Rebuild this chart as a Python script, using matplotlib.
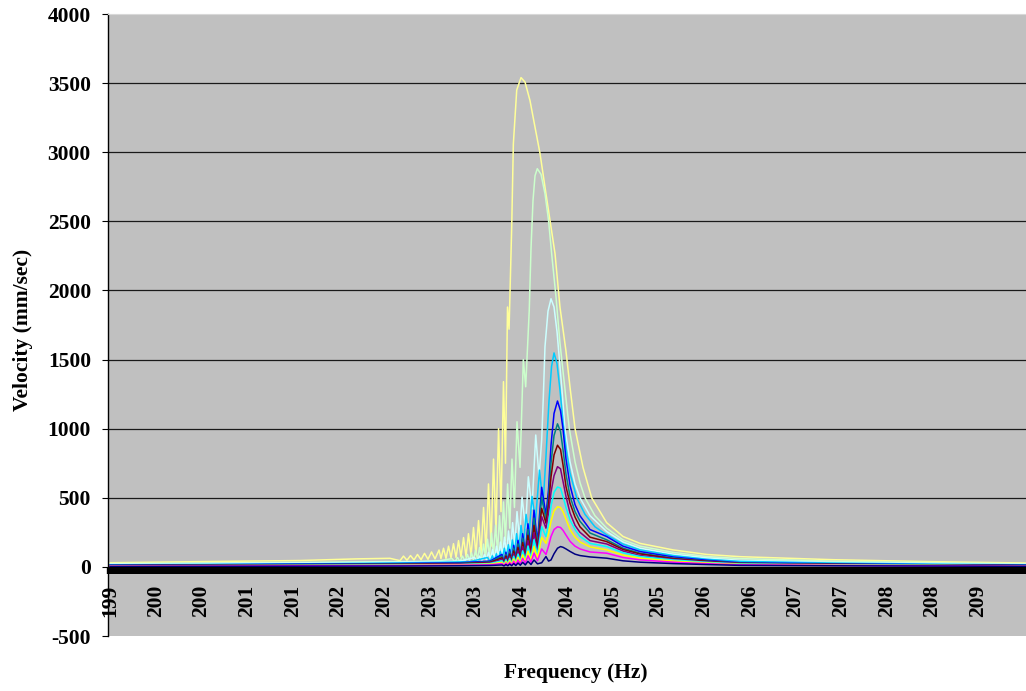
import matplotlib.pyplot as plt
import numpy as np
from matplotlib.ticker import FixedLocator

plt.rcParams['font.family'] = ['Liberation Serif', 'DejaVu Serif']
plt.rcParams['font.weight'] = 'bold'
plt.rcParams['font.size'] = 15.5
plt.rcParams['axes.unicode_minus'] = False

# ---- data: frequency (Hz) / velocity (mm/sec) ----

# largest run (pale yellow)
freq_pale_yellow = [199.000, 199.985, 201.079, 201.699, 202.063,
                    202.173, 202.211, 202.249, 202.288, 202.326, 202.364, 202.403, 202.441, 202.479, 202.518,
                    202.556, 202.600, 202.621, 202.649, 202.676, 202.704, 202.731, 202.758, 202.786, 202.813,
                    202.840, 202.868, 202.895, 202.922, 202.950, 202.977, 203.004, 203.032, 203.059, 203.087,
                    203.114, 203.141, 203.169, 203.196, 203.223, 203.251, 203.278, 203.305, 203.327, 203.349,
                    203.366,
                    203.395, 203.413, 203.450, 203.497, 203.541, 203.595, 203.650, 203.705, 203.759, 203.814,
                    203.869, 203.923, 203.989, 204.033, 204.088, 204.175, 204.270, 204.434, 204.613, 204.799,
                    205.160, 205.529, 205.893, 206.910, 207.972, 209.022]
vel_pale_yellow = [30, 38, 46, 58, 62,
                   45, 78, 48, 82, 50, 90, 52, 98, 55, 108,
                   58, 122, 60, 135, 62, 150, 65, 168, 68, 190,
                   72, 212, 76, 240, 80, 285, 88, 335, 95, 430,
                   110, 600, 150, 780, 250, 1000, 400, 1340, 750, 1880,
                   1720,
                   2460, 3060, 3450, 3540, 3507, 3374, 3181, 2990, 2748, 2507,
                   2266, 1880, 1560, 1300, 1000, 720, 500, 320, 220, 170,
                   123, 90, 74, 52, 38, 28]

# second run (pale green)
freq_pale_green = [199.000, 199.985, 201.079, 202.063, 202.392, 202.611,
                   202.742, 202.775, 202.802, 202.829, 202.857, 202.884, 202.911, 202.933, 202.955, 202.977,
                   202.999, 203.021, 203.043, 203.065, 203.087, 203.108, 203.130, 203.152, 203.174, 203.196,
                   203.218, 203.240, 203.262, 203.283, 203.305, 203.327, 203.350, 203.374, 203.398, 203.425,
                   203.453, 203.486, 203.522, 203.548, 203.587, 203.606, 203.628, 203.650, 203.675, 203.716,
                   203.759, 203.798, 203.836, 203.880, 203.923, 203.967, 204.025, 204.088, 204.142, 204.197,
                   204.306, 204.434, 204.613, 204.799, 205.160, 205.529, 205.893, 206.910, 207.972, 209.022]
vel_pale_green = [24, 28, 33, 38, 40, 45,
                  60, 36, 68, 38, 78, 42, 90, 46, 102, 50,
                  120, 55, 140, 60, 165, 68, 200, 78, 245, 90,
                  300, 110, 370, 140, 470, 190, 600, 280, 780, 430,
                  1050, 720, 1500, 1303, 1857, 2300, 2650, 2830, 2881, 2840,
                  2700, 2507, 2240, 1950, 1620, 1351, 1000, 760, 610, 500,
                  370, 280, 195, 150, 105, 75, 60, 42, 31, 22]

# third run (pale turquoise)
freq_pale_cyan = [199.000, 199.985, 201.079, 202.063, 202.501, 202.829,
                  202.988, 203.015, 203.043, 203.070, 203.097, 203.119, 203.141, 203.163, 203.185, 203.207,
                  203.229, 203.251, 203.272, 203.294, 203.316, 203.338, 203.360, 203.382, 203.405, 203.429,
                  203.453, 203.480, 203.508, 203.546, 203.577, 203.617, 203.658, 203.694, 203.723, 203.741,
                  203.759, 203.792, 203.825, 203.858, 203.891, 203.923, 203.945, 203.978, 204.033, 204.088,
                  204.142, 204.252, 204.434, 204.613, 204.799, 205.160, 205.529, 205.893, 206.910, 207.972,
                  209.022]
vel_pale_cyan = [20, 24, 28, 33, 38, 42,
                 68, 42, 78, 45, 90, 50, 105, 55, 125, 62,
                 150, 70, 180, 80, 215, 95, 260, 115, 320, 150,
                 400, 200, 505, 280, 652, 420, 954, 650, 918, 1230,
                 1592, 1850, 1940, 1880, 1700, 1450, 1280, 1000, 760, 600,
                 500, 370, 256, 180, 135, 92, 65, 47, 33, 25,
                 18]

# fourth run (sky blue)
freq_sky_blue = [199.000, 199.985, 201.079, 202.063, 202.611, 202.939,
                 203.130, 203.158, 203.183, 203.205, 203.227, 203.248, 203.270, 203.292, 203.314, 203.336,
                 203.358, 203.380, 203.402, 203.426, 203.448, 203.473, 203.497, 203.524, 203.552, 203.584,
                 203.617, 203.655, 203.699, 203.738, 203.770, 203.803, 203.831, 203.858, 203.891, 203.923,
                 203.956, 203.989, 204.033, 204.106, 204.197, 204.306, 204.434, 204.613, 204.799, 205.160,
                 205.529, 205.893, 206.910, 207.972, 209.022]
vel_sky_blue = [15, 18, 22, 28, 33, 38,
                68, 38, 80, 42, 95, 48, 112, 55, 135, 65,
                160, 78, 195, 95, 240, 120, 300, 160, 380, 220,
                510, 330, 700, 450, 800, 1200, 1450, 1548, 1470, 1280,
                1050, 860, 680, 500, 380, 290, 232, 165, 123, 82,
                55, 40, 28, 20, 15]

# the eight smaller runs share one frequency grid
freq_grid = [199.000, 199.985, 201.079, 202.173, 202.829, 203.158,
             203.289, 203.311, 203.332, 203.353, 203.373, 203.395,
             203.417, 203.440, 203.464, 203.489, 203.515, 203.544,
             203.573, 203.606, 203.639, 203.677, 203.723, 203.770,
             203.798, 203.825, 203.858, 203.896, 203.929, 203.956,
             203.989, 204.033, 204.088, 204.142, 204.252, 204.434,
             204.613, 204.799, 205.160, 205.529, 205.893, 206.910,
             207.972, 209.022]
vel_blue = [12, 15, 20, 24, 30, 42, 90, 36, 106, 42, 126, 48, 156, 60, 192, 78, 240, 102,
            312, 132, 410, 180, 576, 376, 560, 880, 1110, 1200, 1130, 1000, 780, 590, 450, 370,
            270, 220, 150, 111, 72, 48, 30, 22, 16, 12]
vel_teal = [10, 13, 17, 21, 26, 36, 78, 31, 91, 36, 109, 42, 135, 52, 166, 67, 208, 88,
            270, 114, 353, 156, 503, 340, 500, 750, 950, 1035, 980, 850, 670, 510, 400, 330,
            245, 196, 135, 99, 64, 42, 27, 19, 14, 10]
vel_dark_red = [9, 11, 15, 18, 23, 32, 66, 26, 78, 31, 93, 35, 115, 44, 141, 57, 176, 75,
                229, 97, 300, 132, 424, 316, 450, 650, 810, 880, 850, 740, 580, 460, 360, 290,
                215, 183, 126, 94, 60, 40, 25, 18, 13, 9]
vel_plum = [8, 10, 13, 16, 20, 28, 55, 22, 64, 26, 77, 29, 95, 37, 117, 47, 146, 62,
            190, 80, 248, 110, 364, 280, 390, 540, 660, 725, 710, 620, 510, 390, 300, 250,
            190, 166, 115, 82, 54, 36, 23, 16, 12, 8]
vel_turquoise = [7, 9, 11, 14, 17, 24, 44, 18, 52, 21, 62, 24, 77, 30, 93, 38, 116, 49,
                 151, 64, 197, 87, 291, 219, 310, 440, 540, 578, 570, 510, 430, 340, 270, 220,
                 170, 147, 102, 75, 50, 33, 21, 15, 11, 7]
vel_yellow = [6, 8, 10, 12, 15, 20, 33, 14, 39, 16, 47, 18, 58, 23, 70, 29, 87, 37,
              113, 48, 148, 65, 214, 171, 240, 330, 405, 435, 430, 400, 345, 270, 215, 180,
              145, 123, 85, 63, 42, 28, 18, 13, 10, 6]
vel_magenta = [5, 6, 8, 10, 12, 15, 24, 10, 28, 12, 33, 13, 41, 16, 50, 21, 62, 26,
               80, 34, 100, 45, 130, 90, 150, 220, 270, 290, 285, 265, 230, 185, 150, 130,
               108, 99, 68, 51, 34, 23, 15, 11, 8, 5]
vel_navy = [3, 4, 5, 6, 8, 10, 14, 7, 17, 8, 20, 9, 24, 10, 28, 12, 33, 14,
            40, 17, 50, 22, 30, 75, 42, 50, 95, 135, 147, 142, 130, 112, 92, 82,
            72, 63, 44, 34, 24, 17, 11, 8, 6, 4]

# category axis labels (rounded frequencies, one every 0.5 Hz)
tick_pos = [199.0, 199.5, 200.0, 200.5, 201.0, 201.5, 202.0, 202.5, 203.0, 203.5,
            204.0, 204.5, 205.0, 205.5, 206.0, 206.5, 207.0, 207.5, 208.0, 208.5]
tick_labels = ['199', '200', '200', '201', '201', '202', '202', '203', '203', '204',
               '204', '205', '205', '206', '206', '207', '207', '208', '208', '209']
y_ticks = [-500, 0, 500, 1000, 1500, 2000, 2500, 3000, 3500, 4000]

series = [
    (freq_pale_yellow, vel_pale_yellow, '#FFFF99'),
    (freq_pale_green, vel_pale_green, '#CCFFCC'),
    (freq_pale_cyan, vel_pale_cyan, '#CCFFFF'),
    (freq_sky_blue, vel_sky_blue, '#00CCFF'),
    (freq_grid, vel_blue, '#0000FF'),
    (freq_grid, vel_teal, '#008080'),
    (freq_grid, vel_dark_red, '#800000'),
    (freq_grid, vel_plum, '#800080'),
    (freq_grid, vel_turquoise, '#00FFFF'),
    (freq_grid, vel_yellow, '#FFFF00'),
    (freq_grid, vel_magenta, '#FF00FF'),
    (freq_grid, vel_navy, '#000080'),
]

fig = plt.figure(figsize=(10.26, 6.91), dpi=100)
ax = fig.add_axes([108 / 1026, 1 - 636 / 691, 918 / 1026, 622 / 691])
ax.set_facecolor('#C0C0C0')

for f, v, c in series:
    ax.plot(f, v, color=c, lw=1.1, solid_joinstyle='round')

ax.set_xlim(198.978, 209.022)
ax.set_ylim(-500, 4000)

# y axis + gridlines
ax.set_yticks(y_ticks)
ax.yaxis.grid(True, color='#1a1a1a', lw=0.9)
ax.set_axisbelow(True)
gl = ax.get_ygridlines()
gl[0].set_visible(False)
gl[-1].set_visible(False)
ax.tick_params(axis='y', length=4.3, width=0.8, pad=8, colors='black')

# x axis sits at zero; one tick per category gives the black band
ax.spines['bottom'].set_position(('data', 0))
ax.xaxis.set_major_locator(FixedLocator(tick_pos))
ax.xaxis.set_minor_locator(FixedLocator(np.arange(198.98, 209.03, 0.011)))
ax.set_xticklabels(tick_labels, rotation=90)
ax.tick_params(axis='x', which='both', direction='out', length=4.7, width=1.7,
               color='black')
ax.tick_params(axis='x', which='major', pad=8.0)

ax.spines['right'].set_visible(False)
ax.spines['top'].set_color('#d8d8d8')
ax.spines['left'].set_color('black')
ax.spines['left'].set_linewidth(1.0)

fig.text(23 / 1026, 1 - 330 / 691, 'Velocity (mm/sec)', rotation=90,
         ha='center', va='center')
fig.text(576 / 1026, 1 - 673 / 691, 'Frequency (Hz)', ha='center', va='center')

fig.savefig('out.png', dpi=100)
